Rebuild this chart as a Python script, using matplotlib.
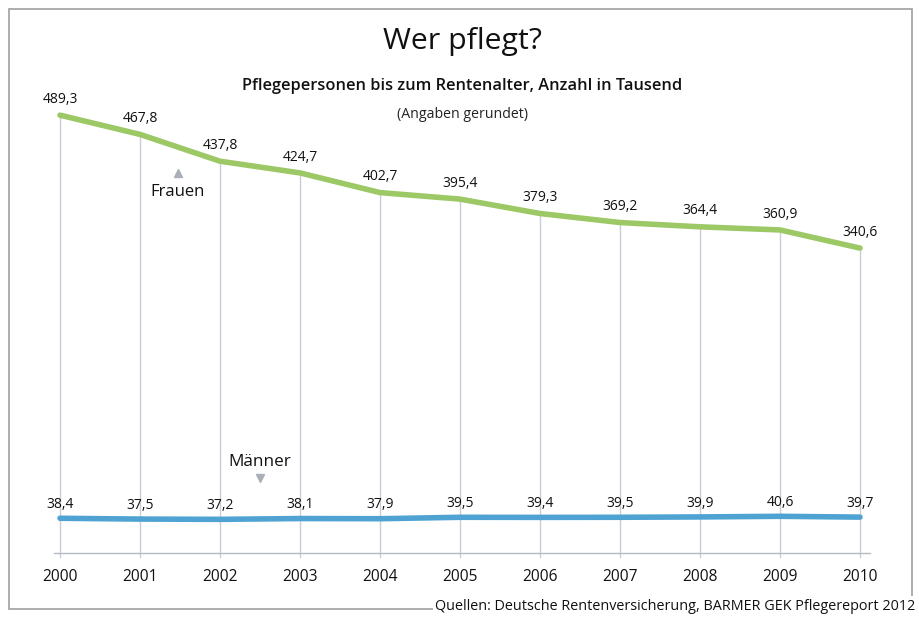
import matplotlib
matplotlib.use("Agg")
import matplotlib.pyplot as plt
from matplotlib.patches import Rectangle

plt.rcParams['font.family'] = ['Open Sans', 'DejaVu Sans']

years = [2000, 2001, 2002, 2003, 2004, 2005, 2006, 2007, 2008, 2009, 2010]
frauen = [489.3, 467.8, 437.8, 424.7, 402.7, 395.4, 379.3, 369.2, 364.4, 360.9, 340.6]
maenner = [38.4, 37.5, 37.2, 38.1, 37.9, 39.5, 39.4, 39.5, 39.9, 40.6, 39.7]

W, H = 919, 617
fig = plt.figure(figsize=(W / 100, H / 100), dpi=100)
ax = fig.add_axes([0, 0, 1, 1])
# 80 px per year, 2000 at x=60; value 0 at y=552.6 px, 0.894 px per unit
ax.set_xlim(2000 - 60 / 80, 2000 + (W - 60) / 80)
ax.set_ylim(-(H - 552.6) / 0.894, 552.6 / 0.894)
ax.axis('off')

def px(x, y):
    return x / W, 1 - y / H

grid_c = '#c9ced6'
green = '#9cc866'
blue = '#4ea3d3'
fmt = lambda v: f"{v:.1f}".replace('.', ',')

# vertical guides from each point down past the baseline
bottom_val = -(557 - 552.6) / 0.894
for yr, f in zip(years, frauen):
    ax.plot([yr, yr], [bottom_val, f], color=grid_c, lw=1.0, zorder=1)
ax.plot([2000 - 6 / 80, 2010 + 10 / 80], [0, 0], color='#b5bbc4', lw=1.0, zorder=1)

ax.plot(years, frauen, color=green, lw=4.0, solid_capstyle='round', solid_joinstyle='round', zorder=3)
ax.plot(years, maenner, color=blue, lw=4.0, solid_capstyle='round', solid_joinstyle='round', zorder=3)

for yr, f in zip(years, frauen):
    ax.annotate(fmt(f), (yr, f), xytext=(0, 6), textcoords='offset points',
                ha='center', va='bottom', fontsize=10, color='#111111', zorder=4)
for yr, m in zip(years, maenner):
    ax.annotate(fmt(m), (yr, m), xytext=(0, 4.5), textcoords='offset points',
                ha='center', va='bottom', fontsize=10, color='#111111', zorder=4)

for yr in years:
    ax.text(yr, -(577 - 552.6) / 0.894, str(yr), ha='center', va='center', fontsize=11.2, color='#111111')

# series names with small marker triangles
fig.text(*px(178, 192), 'Frauen', ha='center', va='center', fontsize=12, color='#111111')
ax.plot(*[[v] for v in ax.transData.inverted().transform((178, H - 173))], marker='^', ms=6, color='#a9b0b8', zorder=2)
fig.text(*px(260, 462), 'Männer', ha='center', va='center', fontsize=12.3, color='#111111')
ax.plot(*[[v] for v in ax.transData.inverted().transform((260, H - 478))], marker='v', ms=6, color='#a9b0b8', zorder=2)

# titles
fig.text(*px(462, 42), 'Wer pflegt?', ha='center', va='center', fontsize=21.8, color='#111111')
fig.text(*px(462, 86), 'Pflegepersonen bis zum Rentenalter, Anzahl in Tausend', ha='center', va='center',
         fontsize=11.8, fontweight='semibold', color='#111111')
fig.text(*px(462, 115), '(Angaben gerundet)', ha='center', va='center', fontsize=10.2, color='#222222')

# frame
fig.patches.append(Rectangle(px(8.5, 608.5), (912 - 8.5) / W, (608.5 - 8.5) / H, transform=fig.transFigure,
                             fill=False, edgecolor='#a0a0a0', lw=1.2))
fig.text(*px(915, 606), 'Quellen: Deutsche Rentenversicherung, BARMER GEK Pflegereport 2012', ha='right',
         va='center', fontsize=10.4, color='#111111',
         bbox=dict(facecolor='white', edgecolor='none', pad=1.5))

fig.savefig('out.png', dpi=100)
